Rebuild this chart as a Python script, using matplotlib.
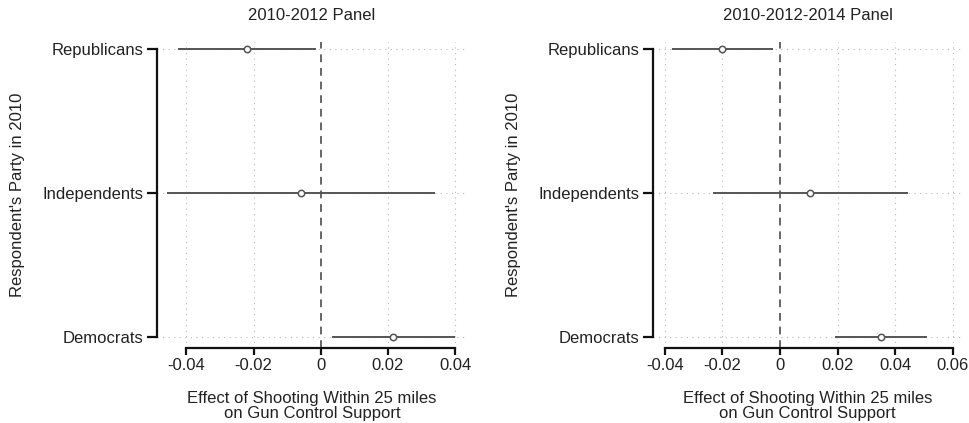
import matplotlib.pyplot as plt
import numpy as np

plt.rcParams['font.family'] = ['Liberation Sans', 'DejaVu Sans']
plt.rcParams['text.color'] = '#222222'
plt.rcParams['axes.labelcolor'] = '#222222'
plt.rcParams['xtick.labelcolor'] = '#222222'
plt.rcParams['ytick.labelcolor'] = '#222222'

parties = ["Democrats", "Independents", "Republicans"]

# 2010-2012 panel: point estimates and interval bounds
est_1012 = [0.0216, -0.0059, -0.0220]
lo_1012 = [0.0033, -0.0458, -0.0424]
hi_1012 = [0.0400, 0.0340, -0.0014]
ticks_1012 = [-0.04, -0.02, 0, 0.02, 0.04]

# 2010-2012-2014 panel
est_1014 = [0.0350, 0.0104, -0.0200]
lo_1014 = [0.0191, -0.0234, -0.0376]
hi_1014 = [0.0509, 0.0443, -0.0023]
ticks_1014 = [-0.04, -0.02, 0, 0.02, 0.04, 0.06]

FS = 12

fig = plt.figure(figsize=(9.7, 4.23), dpi=100)
ax1 = fig.add_axes([0.1619, 0.1773, 0.3195, 0.7234])
ax2 = fig.add_axes([0.6732, 0.1773, 0.3186, 0.7234])


def draw_panel(ax, est, lo, hi, ticks, xlim, title):
    y = np.arange(len(parties))
    for t in ticks:
        if t != 0:
            ax.axvline(t, color="#b8b8b8", lw=0.8, ls=(0, (1, 4)), zorder=0)
    for yy in y:
        ax.axhline(yy, color="#b8b8b8", lw=0.8, ls=(0, (1, 4)), zorder=0)
    ax.axvline(0, color="#666666", lw=1.4, ls=(0, (4, 3)), zorder=1)
    ax.hlines(y, lo, hi, color="#555555", lw=1.4, zorder=2)
    ax.plot(est, y, "o", ms=4.6, mfc="white", mec="#555555", mew=1.1, zorder=3)

    ax.set_xlim(*xlim)
    ax.set_ylim(-0.076, 2.05)
    ax.set_yticks(y)
    ax.set_yticklabels(parties, fontsize=FS)
    ax.set_xticks(ticks)
    ax.set_xticklabels([f"{t:g}" for t in ticks], fontsize=FS)
    ax.spines[["top", "right"]].set_visible(False)
    for s in ["left", "bottom"]:
        ax.spines[s].set_linewidth(1.6)
        ax.spines[s].set_color("#111111")
    ax.spines["left"].set_bounds(0, 2)
    ax.spines["bottom"].set_bounds(ticks[0], ticks[-1])
    ax.tick_params(axis="both", width=1.6, color="#111111")
    ax.tick_params(axis="y", length=7, pad=3)
    ax.tick_params(axis="x", length=5, pad=2)
    ax.set_title(title, fontsize=FS, pad=16)
    ax.set_xlabel("Effect of Shooting Within 25 miles\non Gun Control Support",
                  fontsize=FS, labelpad=13, linespacing=1.05)
    ax.set_ylabel("Respondent's Party in 2010", fontsize=FS, labelpad=12)


draw_panel(ax1, est_1012, lo_1012, hi_1012, ticks_1012, (-0.0487, 0.0435),
           "2010-2012 Panel")
draw_panel(ax2, est_1014, lo_1014, hi_1014, ticks_1014, (-0.0441, 0.0632),
           "2010-2012-2014 Panel")

fig.savefig("out.png", dpi=100)
